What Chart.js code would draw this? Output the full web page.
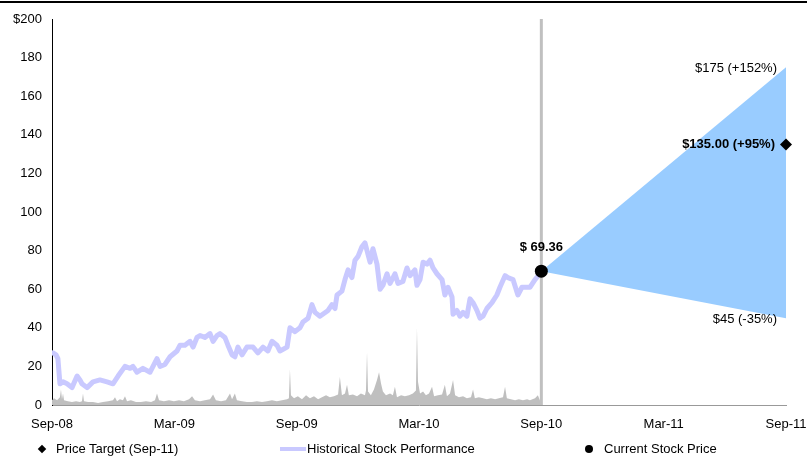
<!DOCTYPE html>
<html>
<head>
<meta charset="utf-8">
<script src="https://cdn.jsdelivr.net/npm/chart.js@4.4.1/dist/chart.umd.min.js"></script>
<style>
  body { margin:0; background:#fff; font-family:"Liberation Sans", Arial, sans-serif; }
  #wrap { position:relative; width:807px; height:456px; overflow:hidden; }
  #rule { position:absolute; left:0; top:1px; width:807px; height:2px; background:#000; }
  #c { position:absolute; left:0; top:0; }
  .lg { position:absolute; font:13px "Liberation Sans", Arial, sans-serif; color:#000; line-height:16px; white-space:nowrap; }
  .mk { position:absolute; }
</style>
</head>
<body>
<div id="wrap">
  <canvas id="c" width="807" height="456"></canvas>
  <div id="rule"></div>
  <div id="legend"></div>
</div>
<script>
// ---------------- DATA ----------------
const xTickLabels = ['Sep-08','Mar-09','Sep-09','Mar-10','Sep-10','Mar-11','Sep-11'];

// months since Sep-08
const priceMonths = [0.05,0.20,0.29,0.39,0.54,0.74,0.98,1.23,1.37,1.47,1.72,2.01,2.35,2.70,2.99,3.24,3.58,3.83,3.97,4.17,4.46,4.81,5.15,5.30,5.54,5.79,6.13,6.28,6.52,6.77,6.92,7.11,7.26,7.50,7.75,7.90,8.09,8.24,8.48,8.63,8.83,8.97,9.12,9.32,9.56,9.86,10.10,10.35,10.59,10.79,11.03,11.18,11.53,11.67,11.92,12.16,12.31,12.56,12.75,12.90,13.14,13.54,13.73,13.88,13.98,14.22,14.37,14.52,14.71,14.86,15.01,15.20,15.35,15.45,15.60,15.74,15.94,16.09,16.23,16.43,16.58,16.82,16.97,17.21,17.41,17.56,17.80,17.90,18.05,18.20,18.39,18.54,18.69,18.88,19.13,19.27,19.42,19.62,19.67,19.86,20.01,20.16,20.35,20.50,20.65,20.84,20.99,21.14,21.33,21.58,21.82,21.97,22.22,22.36,22.61,22.85,23.05,23.30,23.44,23.69,23.93,24.00];
const priceValues = [27,26,24,11,12,11,9,15,13,11,9,12,13,12,11,15,20,19,20,17,19,17,24,20,21,25,28,31,31,33,30,35,36,35,37,33,36,37,35,31,26,25,30,26,30,30,27,30,28,33,31,28,30,40,38,40,43,45,52,48,46,49,52,50,57,59,65,70,66,75,77,82,84,80,74,81,73,60,62,68,63,68,63,64,71,67,70,62,65,74,73,75,71,68,65,57,61,56,47,49,46,48,46,55,53,49,45,46,50,53,57,61,67,66,65,57,61,61,61,65,68,69.36];

// trading volume (millions of shares), months since Sep-08
const volumeMonths = [0.00,0.10,0.25,0.39,0.44,0.49,0.54,0.59,0.78,0.98,1.18,1.37,1.47,1.52,1.57,1.77,2.01,2.26,2.50,2.75,2.99,3.09,3.19,3.33,3.48,3.58,3.68,3.87,4.12,4.36,4.61,4.86,5.05,5.15,5.25,5.49,5.74,5.98,6.23,6.47,6.72,6.87,7.01,7.26,7.50,7.75,7.90,8.04,8.29,8.53,8.73,8.83,8.97,9.07,9.32,9.56,9.81,10.05,10.30,10.54,10.79,11.03,11.28,11.53,11.62,11.67,11.72,11.87,12.06,12.26,12.46,12.65,12.85,13.05,13.24,13.44,13.63,13.83,14.03,14.12,14.22,14.37,14.47,14.56,14.76,14.96,15.15,15.35,15.40,15.45,15.50,15.64,15.79,15.94,16.04,16.14,16.23,16.38,16.58,16.72,16.82,16.92,17.12,17.31,17.51,17.70,17.85,17.90,17.95,18.05,18.20,18.34,18.49,18.64,18.74,18.93,19.13,19.27,19.37,19.52,19.67,19.77,19.96,20.16,20.35,20.55,20.65,20.74,20.94,21.14,21.33,21.53,21.73,21.92,22.12,22.22,22.31,22.51,22.71,22.90,23.10,23.30,23.44,23.69,23.83,23.93,24.00];
const volumeValues = [0.5,0.7,0.5,0.8,1.6,0.6,1.2,0.5,0.4,0.3,0.4,0.3,0.4,1.2,0.4,0.3,0.3,0.2,0.3,0.4,0.5,0.8,0.4,0.6,0.5,0.9,0.4,0.5,0.3,0.3,0.4,0.3,0.5,1.2,0.5,0.4,0.5,0.4,0.5,0.4,0.6,0.9,0.5,0.4,0.5,0.6,1.1,0.5,0.4,0.5,1.2,0.6,1.2,0.5,0.4,0.3,0.3,0.4,0.3,0.4,0.5,0.4,0.5,0.6,0.7,3.7,1.0,0.7,0.9,0.6,1.0,0.7,0.9,0.6,0.8,1.0,0.8,0.9,1.1,2.9,1.0,1.2,2.1,1.0,1.1,0.9,1.2,1.0,1.5,5.5,1.4,1.0,1.6,2.6,3.4,2.2,1.4,1.0,1.2,1.0,1.9,0.8,1.0,0.9,1.0,1.2,1.5,8.0,2.4,1.2,1.4,1.0,1.2,1.9,0.9,1.0,1.1,2.1,0.9,1.2,2.6,1.0,0.8,0.9,0.7,0.8,1.6,0.7,0.8,0.7,0.6,0.7,0.6,0.7,0.8,1.9,0.7,0.6,0.5,0.6,0.5,0.6,0.5,0.7,1.0,0.5,0.4];

const currentMonth = 24;      // Sep-10
const currentPrice = 69.36;
const targetMonth = 36;       // Sep-11
const targetPrice = 135.00;
const highPrice = 175;
const lowPrice = 45;

const currentLabel = '$ 69.36';
const targetLabel = '$135.00 (+95%)';
const highLabel = '$175 (+152%)';
const lowLabel = '$45 (-35%)';

const legendLabels = ['Price Target (Sep-11)', 'Historical Stock Performance', 'Current Stock Price'];

// ---------------- CHART ----------------
const FONT = '"Liberation Sans", Arial, sans-serif';
const pts = (xs, ys) => xs.map((x, i) => ({ x: x, y: ys[i] }));

const labelPlugin = {
  id: 'pointLabels',
  afterDatasetsDraw(chart) {
    const { ctx, scales } = chart;
    const xs = scales.x, ys = scales.y;
    const items = [
      { t: currentLabel, x: currentMonth, y: currentPrice, bold: true, align: 'center', dx: 0, dy: -24 },
      { t: targetLabel, x: targetMonth, y: targetPrice, bold: true, align: 'right', dx: -11, dy: 0 },
      { t: highLabel, x: targetMonth, y: highPrice, bold: false, align: 'right', dx: -9, dy: 1 },
      { t: lowLabel, x: targetMonth, y: lowPrice, bold: false, align: 'right', dx: -9, dy: 1 }
    ];
    ctx.save();
    ctx.fillStyle = '#000';
    ctx.textBaseline = 'middle';
    items.forEach(it => {
      ctx.font = (it.bold ? 'bold ' : '') + '13px ' + FONT;
      ctx.textAlign = it.align;
      ctx.fillText(it.t, xs.getPixelForValue(it.x) + it.dx, ys.getPixelForValue(it.y) + it.dy);
    });
    ctx.restore();
  }
};

new Chart(document.getElementById('c'), {
  type: 'line',
  data: {
    datasets: [
      { // current price point
        label: legendLabels[2],
        data: [{ x: currentMonth, y: currentPrice }],
        showLine: false, pointRadius: 6.5, pointBackgroundColor: '#000', pointBorderWidth: 0,
        order: 0, clip: false
      },
      { // price target diamond
        label: legendLabels[0],
        data: [{ x: targetMonth, y: targetPrice }],
        showLine: false, pointStyle: 'rectRot', pointRadius: 6, pointBackgroundColor: '#000', pointBorderWidth: 0,
        order: 0, clip: false
      },
      { // historical price
        label: legendLabels[1],
        data: pts(priceMonths, priceValues),
        borderColor: '#c9c9ff', borderWidth: 5, pointRadius: 0, tension: 0, fill: false,
        borderJoinStyle: 'round', borderCapStyle: 'round',
        order: 2
      },
      { // cone upper
        label: 'high',
        data: [{ x: currentMonth, y: currentPrice }, { x: targetMonth, y: highPrice }],
        borderWidth: 0, borderColor: 'rgba(0,0,0,0)', pointRadius: 0,
        backgroundColor: '#99ccff', fill: '+1', order: 3
      },
      { // cone lower
        label: 'low',
        data: [{ x: currentMonth, y: currentPrice }, { x: targetMonth, y: lowPrice }],
        borderWidth: 0, borderColor: 'rgba(0,0,0,0)', pointRadius: 0, fill: false, order: 3
      },
      { // vertical divider at current date
        label: 'divider',
        data: [{ x: currentMonth, y: 0 }, { x: currentMonth, y: 200 }],
        borderColor: '#c0c0c0', borderWidth: 3, pointRadius: 0, fill: false, order: 1
      },
      { // volume
        label: 'volume',
        data: pts(volumeMonths, volumeValues),
        yAxisID: 'yVol',
        borderWidth: 0, borderColor: 'rgba(0,0,0,0)', backgroundColor: '#bfbfbf',
        pointRadius: 0, fill: 'origin', tension: 0, order: 4
      }
    ]
  },
  options: {
    responsive: false,
    animation: false,
    events: [],
    layout: { padding: { left: 0, right: 21, top: 19, bottom: 21 } },
    plugins: { legend: { display: false }, tooltip: { enabled: false } },
    scales: {
      x: {
        type: 'linear', min: 0, max: 36,
        grid: { display: false, drawTicks: false, tickLength: 0 },
        border: { display: true, color: '#999', width: 1 },
        ticks: {
          stepSize: 6, autoSkip: false, maxRotation: 0, padding: 12,
          color: '#000', font: { family: FONT, size: 13 },
          callback: v => xTickLabels[Math.round(v / 6)]
        },
        afterFit: s => { s.height = 30; s.paddingLeft = 0; s.paddingRight = 0; }
      },
      y: {
        min: 0, max: 200,
        grid: { display: false, drawTicks: false, tickLength: 0 },
        border: { display: true, color: '#000', width: 1 },
        ticks: {
          stepSize: 20, padding: 10, color: '#000', font: { family: FONT, size: 13 },
          callback: v => (v === 200 ? '$200' : String(v))
        },
        afterFit: s => { s.width = 52; s.paddingTop = 0; s.paddingBottom = 0; }
      },
      yVol: { display: false, min: 0, max: 40 }
    }
  },
  plugins: [labelPlugin]
});

// ---------------- LEGEND (HTML) ----------------
(function () {
  const wrap = document.getElementById('wrap');
  const add = (html) => { wrap.insertAdjacentHTML('beforeend', html); };
  add('<div class="mk" style="left:39px;top:446px;width:6px;height:6px;background:#000;transform:rotate(45deg)"></div>');
  add('<div class="lg" style="left:56px;top:441px">' + legendLabels[0] + '</div>');
  add('<div class="mk" style="left:280px;top:447px;width:26px;height:4px;background:#c9c9ff"></div>');
  add('<div class="lg" style="left:307px;top:441px">' + legendLabels[1] + '</div>');
  add('<div class="mk" style="left:585px;top:445px;width:8px;height:8px;border-radius:50%;background:#000"></div>');
  add('<div class="lg" style="left:604px;top:441px">' + legendLabels[2] + '</div>');
})();
</script>
</body>
</html>
